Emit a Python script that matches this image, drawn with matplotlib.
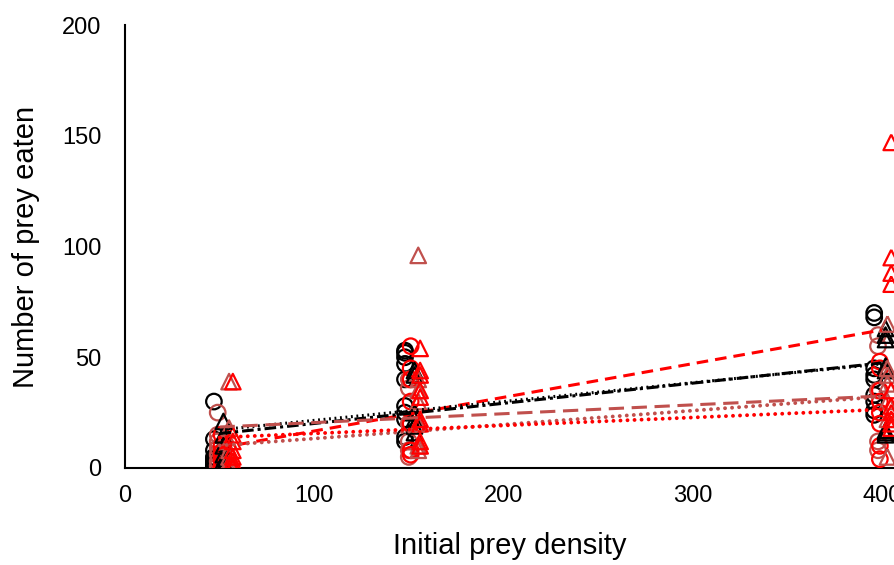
import numpy as np
import matplotlib.pyplot as plt

plt.rcParams['font.family'] = ['Liberation Sans', 'DejaVu Sans']

# Series: black / red / brown, circles and triangles
black_c_x = [47] * 10 + [148] * 10 + [396] * 9
black_c_y = [30, 13, 8, 5, 3, 2, 1, 0, 0, 4,
             53, 52, 50, 47, 40, 28, 25, 22, 14, 12,
             70, 68, 45, 42, 40, 33, 30, 26, 24]

black_t_x = [52] * 7 + [153] * 6 + [402] * 8
black_t_y = [21, 15, 10, 6, 3, 1, 0,
             44, 42, 25, 22, 16, 19,
             63, 60, 58, 46, 44, 17, 16, 15]

red_c_x = [51] * 7 + [151] * 7 + [399] * 8
red_c_y = [15, 10, 7, 5, 3, 1, 0,
           55, 45, 40, 30, 20, 8, 6,
           48, 45, 35, 30, 25, 20, 10, 4]

red_t_x = [57] * 8 + [156] * 9 + [405] * 10
red_t_y = [39, 15, 12, 8, 5, 3, 1, 0,
           54, 44, 42, 35, 32, 22, 20, 12, 10,
           147, 95, 88, 83, 35, 28, 25, 22, 20, 18]

brown_c_x = [49] * 7 + [150] * 6 + [398] * 5
brown_c_y = [25, 15, 12, 9, 6, 3, 1,
             40, 36, 20, 12, 8, 5,
             60, 55, 35, 12, 8]

brown_t_x = [55] * 7 + [155] * 7 + [403] * 7
brown_t_y = [39, 18, 12, 8, 5, 2, 0,
             96, 40, 35, 30, 20, 10, 8,
             65, 45, 42, 38, 30, 22, 5]

# linear trend lines (intercept, slope)
trend_black_c = (11.0, 0.091)
trend_black_t = (13.0, 0.085)
trend_red_c = (12.0, 0.036)
trend_red_t = (1.5, 0.152)
trend_brown_c = (16.5, 0.040)
trend_brown_t = (7.0, 0.063)

BLACK = 'black'
RED = '#FF0000'
BROWN = '#C0504D'

fig = plt.figure(figsize=(8.95, 5.65), dpi=100)
ax = fig.add_axes([125/895, 97/565, 770/895, 443/565])

series = [
    (black_c_x, black_c_y, 'o', BLACK),
    (brown_c_x, brown_c_y, 'o', BROWN),
    (red_c_x, red_c_y, 'o', RED),
    (black_t_x, black_t_y, '^', BLACK),
    (brown_t_x, brown_t_y, '^', BROWN),
    (red_t_x, red_t_y, '^', RED),
]
for xs, ys, m, c in series:
    ax.scatter(xs, ys, s=125, marker=m, facecolors='none', edgecolors=c,
               linewidths=1.6, zorder=3)

xt = np.array([50, 400])
trends = [
    (trend_red_t, RED, (0, (3.8, 2.3)), 'butt', 2.2),
    (trend_black_c, BLACK, (0, (3.8, 1.3, 1, 1.3)), 'butt', 2.2),
    (trend_black_t, BLACK, (0, (0.6, 1.2)), 'butt', 2.2),
    (trend_brown_c, BROWN, (0, (5, 2.5)), 'butt', 2.2),
    (trend_brown_t, BROWN, (0, (0.01, 1.8)), 'round', 2.8),
    (trend_red_c, RED, (0, (0.01, 1.8)), 'round', 2.8),
]
for (b, k), c, ls, cap, lw in trends:
    ax.plot(xt, b + k * xt, color=c, lw=lw, linestyle=ls,
            dash_capstyle=cap, zorder=4)

ax.set_xlim(0, 407)
ax.set_ylim(0, 200)
ax.set_xticks([0, 100, 200, 300, 400])
ax.set_yticks([0, 50, 100, 150, 200])
ax.spines['top'].set_visible(False)
ax.spines['right'].set_visible(False)
ax.spines['left'].set_linewidth(1.5)
ax.spines['bottom'].set_linewidth(1.5)
ax.tick_params(axis='both', length=0, labelsize=17)
ax.tick_params(axis='x', pad=12)
ax.tick_params(axis='y', pad=17)
ax.set_xlabel('Initial prey density', fontsize=21, labelpad=18)
ax.set_ylabel('Number of prey eaten', fontsize=21, labelpad=16)

fig.savefig('out.png', dpi=100)
